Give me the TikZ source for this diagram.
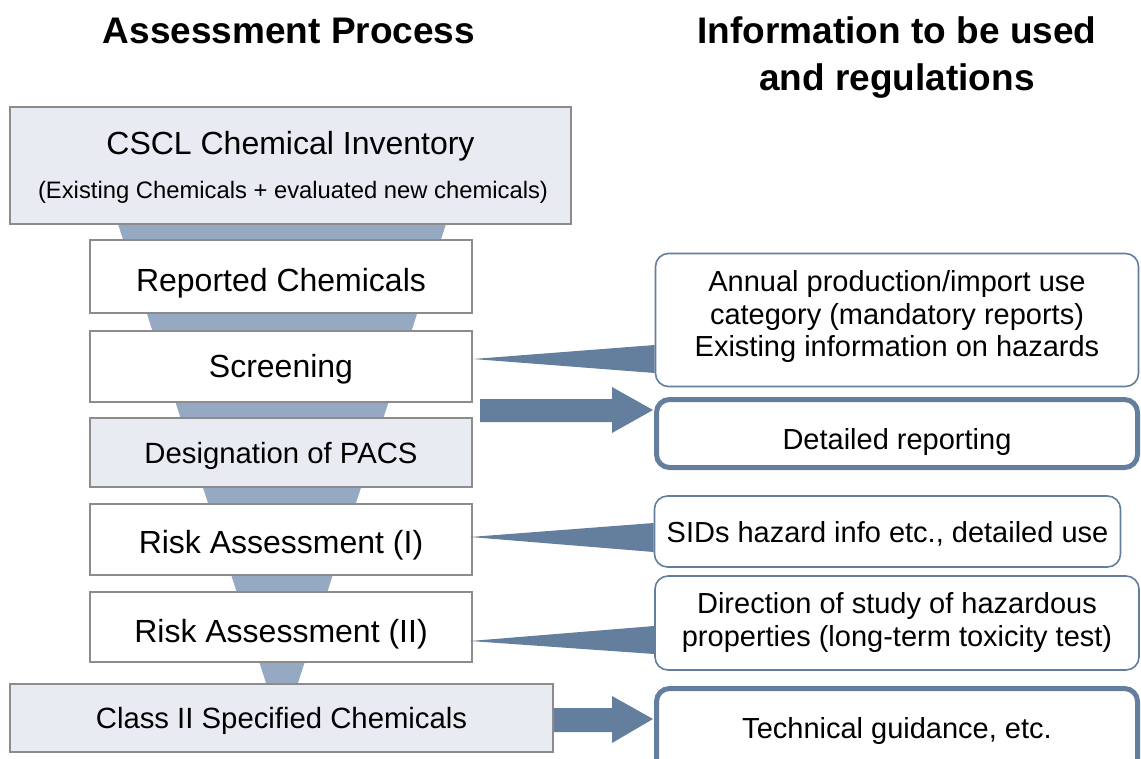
\documentclass[tikz,border=0pt]{standalone}
\usepackage{fontspec}
\setmainfont{Liberation Sans}
\usetikzlibrary{calc}
\definecolor{funnelc}{HTML}{95A9C2}
\definecolor{darkc}{HTML}{647E9D}
\definecolor{litec}{HTML}{E8EBF2}
\definecolor{grayb}{HTML}{8C8C8C}
\begin{document}
\begin{tikzpicture}[x=1pt,y=-1pt,
  lbox/.style={draw=grayb,line width=2pt,fill=white,inner sep=0pt,align=center,text depth=0pt,font=\fontsize{32}{38}\selectfont},
  litebox/.style={lbox,fill=litec,font=\fontsize{29.3}{35}\selectfont},
  rbox/.style={draw=darkc,line width=1.6pt,rounded corners=13pt,fill=white,inner sep=0pt,align=center,font=\fontsize{29}{32.5}\selectfont},
  tbox/.style={rbox,line width=5pt},
  title/.style={font=\bfseries\fontsize{37}{47}\selectfont,align=center,inner sep=0pt,anchor=base},
  wedge/.style={fill=darkc},
  bigarrow/.style={fill=darkc}]
\useasboundingbox (0,0) rectangle (1141,758);
% titles
\node[title] (t1) at (289,43) {Assessment Process};
\node[title] (t2) at (897,90) {Information to be used\\and regulations};
% funnel
\fill[funnelc] (118,224) -- (446,224) -- (297,686) -- (267,686) -- cycle;
% left boxes
\node[litebox,minimum width=561pt,minimum height=117pt] (cscl) at (290.5,165.5) {};
\node[inner sep=0pt,anchor=base,font=\fontsize{32}{38}\selectfont] (cscl1) at (290.5,154) {CSCL Chemical Inventory};
\node[inner sep=0pt,anchor=base,font=\fontsize{23.8}{28}\selectfont] (cscl2) at (293,198) {(Existing Chemicals + evaluated new chemicals)};
\node[lbox,minimum width=382pt,minimum height=73pt,text height=29.9pt] (rep) at (281,276.5) {Reported Chemicals};
\node[lbox,minimum width=382pt,minimum height=71pt,text height=22.9pt] (scr) at (281,366.5) {Screening};
\node[litebox,minimum width=382pt,minimum height=69pt,text height=21pt] (pacs) at (281,452.5) {Designation of PACS};
\node[lbox,minimum width=382pt,minimum height=71pt,text height=27.3pt] (ra1) at (281,539.5) {Risk Assessment (I)};
\node[lbox,minimum width=382pt,minimum height=70pt,text height=30.5pt] (ra2) at (281,627) {Risk Assessment (II)};
\node[litebox,minimum width=543pt,minimum height=68pt,text height=21pt] (cls) at (281.5,718) {Class II Specified Chemicals};
% right boxes
\node[rbox,minimum width=483pt,minimum height=133pt,text height=86pt,text depth=12.6pt] (ann) at (897,320) {Annual production/import use\\category (mandatory reports)\\Existing information on hazards};
\node[tbox,minimum width=481pt,minimum height=68pt,text height=31.4pt,text depth=0pt] (det) at (897,433.5) {Detailed reporting};
\node[rbox,minimum width=466pt,minimum height=71pt,text height=21.8pt,text depth=0pt] (sid) at (887.5,531.5) {SIDs hazard info etc., detailed use};
\node[rbox,minimum width=484pt,minimum height=94pt,text height=54pt,text depth=7.4pt,font=\fontsize{29}{33}\selectfont] (dir) at (897,623) {Direction of study of hazardous\\properties (long-term toxicity test)};
\draw[draw=darkc,line width=5pt,rounded corners=13pt,fill=white] (656.5,780) -- (656.5,688.5) -- (1137.5,688.5) -- (1137.5,780);
\node[inner sep=0pt,anchor=base,font=\fontsize{29}{32.5}\selectfont] (tec) at (897,738.3) {Technical guidance, etc.};
% wedges
\coordinate (w1) at (473,359);
\coordinate (w2) at (470,537);
\coordinate (w3) at (470,641);
\fill[wedge] (w1) -- (ann.west |- 0,345) -- (ann.west |- 0,373) -- cycle;
\fill[wedge] (w2) -- (sid.west |- 0,523) -- (sid.west |- 0,552) -- cycle;
\fill[wedge] (w3) -- (dir.west |- 0,626) -- (dir.west |- 0,654) -- cycle;
% big arrows
\fill[bigarrow] (480,399) -- (612,399) -- (612,387) -- (653,410) -- (612,433) -- (612,422) -- (480,422) -- cycle;
\fill[bigarrow] (cls.east |- 0,708) -- (612,708) -- (612,696) -- (653,719) -- (612,743) -- (612,732) -- (cls.east |- 0,732) -- cycle;
\end{tikzpicture}
\end{document}
